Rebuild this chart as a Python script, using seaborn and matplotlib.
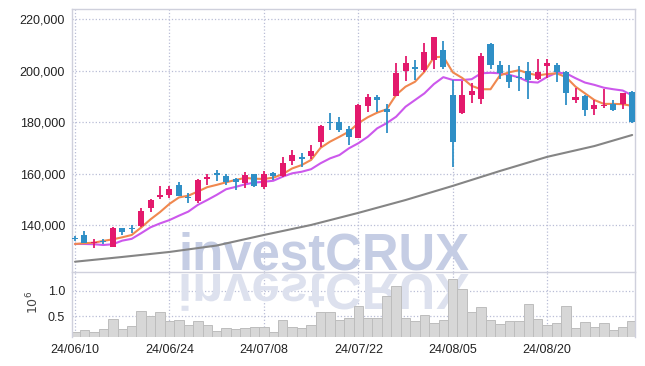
import matplotlib
matplotlib.use("Agg")
import matplotlib.pyplot as plt
import numpy as np
import seaborn as sns
from matplotlib import font_manager
from matplotlib.patches import PathPatch
from matplotlib.textpath import TextPath
from matplotlib.transforms import Affine2D
from matplotlib.ticker import FuncFormatter

# daily candles, 24/06/10 .. 24/09/02 (trading days)
opens = [134800, 136100, 133000, 133600, 131600, 138900, 138700, 139600, 146600, 151000,
         151700, 155500, 150600, 149300, 157700, 159900, 158900, 157900, 156500, 159700,
         154900, 160200, 159100, 165000, 166200, 167000, 172200, 180100, 180100, 177200,
         174000, 186400, 189800, 185100, 190300, 200000, 201200, 200300, 204200, 208100,
         190600, 183500, 190600, 189000, 210500, 202200, 198300, 197600, 199900, 196700,
         201900, 202200, 199700, 188700, 190200, 185200, 186100, 187000, 187000, 191700]
highs = [135600, 137700, 134400, 134400, 139200, 139000, 139900, 146500, 150000, 155200,
         155300, 156900, 152300, 157700, 160000, 161300, 159700, 158300, 160700, 160000,
         161000, 160700, 166300, 169200, 167900, 171100, 178700, 183700, 181900, 178500,
         187000, 190900, 190600, 187000, 202900, 205900, 204200, 210700, 213200, 211400,
         196400, 196000, 195400, 206800, 210800, 203900, 202200, 202000, 203500, 204500,
         204500, 202900, 200000, 193200, 190400, 188600, 192800, 188600, 191400, 192300]
lows = [133600, 133000, 131200, 132600, 131400, 136000, 136800, 139300, 145200, 150000,
        150600, 151200, 148700, 148400, 155600, 157100, 155600, 153600, 154300, 154700,
        154000, 157500, 158800, 163300, 162400, 165600, 170200, 177000, 176300, 171000,
        173700, 184100, 184100, 175700, 190000, 196100, 196400, 199600, 200800, 200800,
        162700, 183200, 187300, 187100, 200800, 196700, 193200, 192000, 188900, 196400,
        197300, 195800, 186700, 187600, 182400, 182800, 185600, 184500, 185100, 179600]
closes = [134500, 133100, 133300, 133400, 139000, 137400, 138400, 145500, 149700, 151600,
          154000, 151400, 150300, 157400, 158700, 159600, 156900, 156600, 159400, 155300,
          159800, 159200, 164000, 167200, 165800, 168800, 178500, 179600, 177000, 174100,
          186700, 189700, 188700, 183800, 199200, 203200, 200800, 207300, 213000, 201600,
          172400, 190600, 192100, 205700, 202100, 199000, 195700, 197200, 196400, 199400,
          202900, 199700, 191500, 189800, 184700, 186700, 186400, 184700, 191300, 180200]
volumes = [0.19, 0.22, 0.18, 0.24, 0.45, 0.24, 0.30, 0.60, 0.50, 0.58,
           0.40, 0.42, 0.32, 0.40, 0.32, 0.20, 0.26, 0.24, 0.26, 0.28,
           0.28, 0.18, 0.42, 0.28, 0.26, 0.32, 0.57, 0.57, 0.42, 0.47,
           0.70, 0.47, 0.47, 0.90, 1.09, 0.47, 0.40, 0.52, 0.36, 0.43,
           1.24, 1.03, 0.57, 0.67, 0.42, 0.34, 0.41, 0.40, 0.73, 0.45,
           0.32, 0.36, 0.69, 0.26, 0.38, 0.28, 0.36, 0.22, 0.28, 0.41]
ma_short = [132600, 132900, 133100, 133800, 134400, 135200, 136100, 139000, 142200, 145000,
            148200, 150700, 151400, 153000, 154700, 155600, 156600, 157500, 158300, 158000,
            157900, 158400, 159800, 162000, 163300, 165300, 170000, 172400, 174300, 176300,
            179600, 181900, 183700, 185000, 190600, 193800, 195700, 199600, 205200, 205500,
            199400, 197200, 194100, 192800, 192800, 198200, 199400, 200200, 199000, 198200,
            198700, 199000, 197500, 193800, 191200, 188600, 187100, 187100, 187000, 186300]
ma_mid = [132600, 132600, 132500, 132200, 132500, 133900, 134600, 136800, 139100, 140600,
          141900, 143600, 145200, 147800, 149700, 151700, 153900, 154800, 155800, 156500,
          156800, 157200, 158800, 160100, 160700, 161700, 164000, 165900, 167200, 169800,
          171800, 174300, 177600, 179600, 182100, 186000, 188600, 191200, 194800, 197500,
          196400, 196400, 196700, 199000, 199200, 199000, 198400, 197400, 195700, 195400,
          197600, 199200, 199000, 197100, 195400, 194500, 193400, 192800, 192300, 190400]
ma_long_pos = [0, 5, 10, 15, 20, 25, 30, 35, 40, 45, 50, 55, 59]
ma_long = [125700, 127550, 129500, 132000, 136100, 140000, 144700, 149700, 155200,
           161000, 166500, 170700, 175000]
tick_pos = [0, 10, 20, 30, 40, 50]
tick_labels = ["24/06/10", "24/06/24", "24/07/08", "24/07/22", "24/08/05", "24/08/20"]
price_ticks = [140000, 160000, 180000, 200000, 220000]

sns.set_theme(style="white")
names = {f.name for f in font_manager.fontManager.ttflist}
narrow = "Liberation Sans Narrow" if "Liberation Sans Narrow" in names else "Liberation Sans"
lab_size = 10.5 if narrow == "Liberation Sans Narrow" else 9
plt.rcParams["font.family"] = [narrow, "DejaVu Sans"]

UP, DOWN = "#e3196c", "#2f8fc6"
GRID = "#b9bdd6"
SPINE = "#cfd0dc"

fig = plt.figure(figsize=(6.45, 3.66), dpi=100)
ax = fig.add_axes([72 / 645, 1 - 272 / 366, 563 / 645, 262.7 / 366])
axv = fig.add_axes([72 / 645, 1 - 337.3 / 366, 563 / 645, 65.3 / 366], sharex=ax)

idx = np.arange(len(closes))
o = np.array(opens)
c = np.array(closes)
col = [UP if cc >= oo else DOWN for oo, cc in zip(o, c)]

# moving averages
sns.lineplot(x=ma_long_pos, y=ma_long, ax=ax, color="#858585", linewidth=1.5, zorder=2)
sns.lineplot(x=idx, y=ma_mid, ax=ax, color="#cc58ec", linewidth=1.5, zorder=2.2)
sns.lineplot(x=idx, y=ma_short, ax=ax, color="#f0884f", linewidth=1.5, zorder=2.4)

# candles
ax.vlines(idx, lows, highs, colors=col, linewidth=1.3, zorder=3)
body = np.maximum(np.abs(c - o), 550)
ax.bar(idx, body, bottom=np.minimum(o, c), width=0.64, color=col, linewidth=0, zorder=3.2)

ax.set_xlim(-0.32, 59.3)
ax.set_ylim(121700, 223900)
ax.set_yticks(price_ticks)
ax.yaxis.set_major_formatter(FuncFormatter(lambda v, p: f"{v:,.0f}"))
ax.set_xticks(tick_pos)
ax.tick_params(labelbottom=False)

# volume
sns.barplot(x=idx, y=volumes, ax=axv, native_scale=True, width=1.0, color="#d7d7d7",
            saturation=1, edgecolor="#bdbdbd", linewidth=0.7, zorder=2)
axv.set_ylim(0.08, 1.37)
axv.set_yticks([0.5, 1.0], ["0.5", "1.0"])
axv.set_xticks(tick_pos, tick_labels)
axv.set_xlim(-0.32, 59.3)
axv.set_xlabel("")
axv.set_ylabel("")

for a in (ax, axv):
    a.grid(True, linestyle=":", color=GRID, linewidth=0.9, zorder=0)
    a.set_axisbelow(True)
    a.tick_params(length=0, pad=5, labelsize=lab_size, labelcolor="#222222")
    for s in a.spines.values():
        s.set_color(SPINE)
        s.set_linewidth(1.0)
axv.spines["bottom"].set_visible(False)
ax.spines["bottom"].set_visible(False)

fig.text(33 / 645, 1 - 302 / 366, r"$10^6$", rotation=90, ha="center", va="center",
         fontsize=9, color="#444444", family="DejaVu Sans")

# watermark and its reflection
wm_prop = font_manager.FontProperties(family=narrow, weight="bold")
tp = TextPath((0, 0), "investCRUX", size=1, prop=wm_prop)
wm_size = (287 / 100 * 72) / tp.get_extents().width
ax.text(178 / 645, 1 - 270 / 366, "investCRUX", transform=fig.transFigure,
        fontproperties=wm_prop, fontsize=wm_size, color="#c5cde4", va="baseline",
        ha="left", zorder=1, clip_on=False)
refl = Affine2D().scale(wm_size / 72, -wm_size / 72).translate(178 / 100, (366 - 274) / 100)
axv.add_patch(PathPatch(tp, transform=refl + fig.dpi_scale_trans, facecolor="#dde1ee",
                        edgecolor="none", zorder=1, clip_on=True))

fig.savefig("out.png", dpi=100)
